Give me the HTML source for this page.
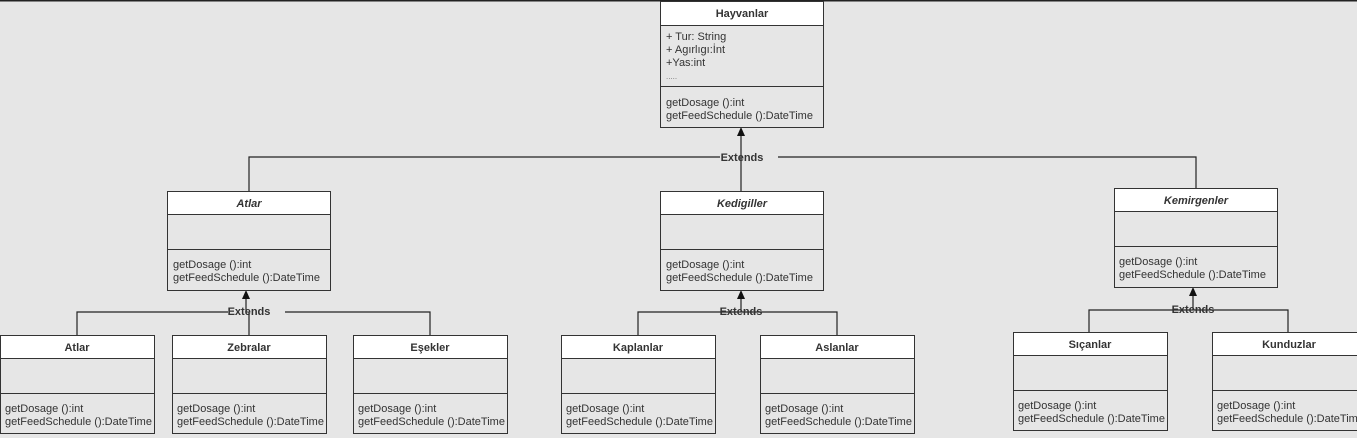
<!DOCTYPE html>
<html><head><meta charset="utf-8"><style>
html,body{margin:0;padding:0;background:#e6e6e6;width:1357px;height:438px;overflow:hidden}
svg{display:block}
text{font-family:"Liberation Sans",Arial,sans-serif;font-size:11px;fill:#333}
.t{font-weight:bold;text-anchor:middle;font-size:11px}
.i{font-style:italic;font-weight:bold;text-anchor:middle;font-size:11px}
.b{fill:#e6e6e6;stroke:#333;stroke-width:1}
.h{fill:#fff;stroke:#333;stroke-width:1}
.l{stroke:#222;stroke-width:1.2;fill:none}
</style></head><body>
<svg width="1357" height="438" viewBox="0 0 1357 438">
<line x1="0" y1="0.5" x2="1357" y2="0.5" stroke="#222" stroke-width="2"/>

<polyline class="l" points="249,191 249,157 720,157"/>
<polyline class="l" points="778,157 1196,157 1196,188"/>
<line class="l" x1="741" y1="191" x2="741" y2="133"/>
<polygon points="741,127 737,136 745,136" fill="#111"/>
<text x="742" y="161" class="t">Extends</text>

<polyline class="l" points="77,335 77,312 228,312"/>
<polyline class="l" points="285,312 430,312 430,335"/>
<line class="l" x1="249" y1="335" x2="249" y2="312"/>
<line class="l" x1="246" y1="312" x2="246" y2="296"/>
<polygon points="246,290 242,299 250,299" fill="#111"/>
<text x="249" y="315" class="t">Extends</text>

<polyline class="l" points="638,335 638,312 837,312 837,335"/>
<line class="l" x1="741" y1="312" x2="741" y2="296"/>
<polygon points="741,290 737,299 745,299" fill="#111"/>
<text x="741" y="315" class="t">Extends</text>

<polyline class="l" points="1089,332 1089,310 1288,310 1288,332"/>
<line class="l" x1="1193" y1="310" x2="1193" y2="293"/>
<polygon points="1193,287 1189,296 1197,296" fill="#111"/>
<text x="1193" y="313" class="t">Extends</text>

<rect class="b" x="660.5" y="1.5" width="163" height="126"/>
<rect class="h" x="660.5" y="1.5" width="163" height="24"/>
<line stroke="#333" x1="660" y1="86.5" x2="824" y2="86.5"/>
<text x="742" y="17" class="t">Hayvanlar</text>
<text x="666" y="40">+ Tur: String</text>
<text x="666" y="53">+ Agırlıgı:İnt</text>
<text x="666" y="66">+Yas:int</text>
<text x="666" y="79" style="font-size:8px;fill:#777">.....</text>
<text x="666" y="106">getDosage ():int</text>
<text x="666" y="119">getFeedSchedule ():DateTime</text>

<g>
<rect class="b" x="167.5" y="191.5" width="163" height="99"/>
<rect class="h" x="167.5" y="191.5" width="163" height="23"/>
<line stroke="#333" x1="167" y1="249.5" x2="331" y2="249.5"/>
<text x="249" y="207" class="i">Atlar</text>
<text x="173" y="268">getDosage ():int</text>
<text x="173" y="281">getFeedSchedule ():DateTime</text>
</g>
<g>
<rect class="b" x="660.5" y="191.5" width="163" height="99"/>
<rect class="h" x="660.5" y="191.5" width="163" height="23"/>
<line stroke="#333" x1="660" y1="249.5" x2="824" y2="249.5"/>
<text x="742" y="207" class="i">Kedigiller</text>
<text x="666" y="268">getDosage ():int</text>
<text x="666" y="281">getFeedSchedule ():DateTime</text>
</g>
<g>
<rect class="b" x="1114.5" y="188.5" width="163" height="99"/>
<rect class="h" x="1114.5" y="188.5" width="163" height="23"/>
<line stroke="#333" x1="1114" y1="246.5" x2="1278" y2="246.5"/>
<text x="1196" y="204" class="i">Kemirgenler</text>
<text x="1119" y="265">getDosage ():int</text>
<text x="1119" y="278">getFeedSchedule ():DateTime</text>
</g>

<g>
<rect class="b" x="0.5" y="335.5" width="154" height="98"/>
<rect class="h" x="0.5" y="335.5" width="154" height="23"/>
<line stroke="#333" x1="0" y1="393.5" x2="155" y2="393.5"/>
<text x="77" y="351" class="t">Atlar</text>
<text x="5" y="412">getDosage ():int</text>
<text x="5" y="425">getFeedSchedule ():DateTime</text>
</g>
<g>
<rect class="b" x="172.5" y="335.5" width="154" height="98"/>
<rect class="h" x="172.5" y="335.5" width="154" height="23"/>
<line stroke="#333" x1="172" y1="393.5" x2="327" y2="393.5"/>
<text x="249" y="351" class="t">Zebralar</text>
<text x="177" y="412">getDosage ():int</text>
<text x="177" y="425">getFeedSchedule ():DateTime</text>
</g>
<g>
<rect class="b" x="353.5" y="335.5" width="154" height="98"/>
<rect class="h" x="353.5" y="335.5" width="154" height="23"/>
<line stroke="#333" x1="353" y1="393.5" x2="508" y2="393.5"/>
<text x="430" y="351" class="t">Eşekler</text>
<text x="358" y="412">getDosage ():int</text>
<text x="358" y="425">getFeedSchedule ():DateTime</text>
</g>
<g>
<rect class="b" x="561.5" y="335.5" width="154" height="98"/>
<rect class="h" x="561.5" y="335.5" width="154" height="23"/>
<line stroke="#333" x1="561" y1="393.5" x2="716" y2="393.5"/>
<text x="638" y="351" class="t">Kaplanlar</text>
<text x="566" y="412">getDosage ():int</text>
<text x="566" y="425">getFeedSchedule ():DateTime</text>
</g>
<g>
<rect class="b" x="760.5" y="335.5" width="154" height="98"/>
<rect class="h" x="760.5" y="335.5" width="154" height="23"/>
<line stroke="#333" x1="760" y1="393.5" x2="915" y2="393.5"/>
<text x="837" y="351" class="t">Aslanlar</text>
<text x="765" y="412">getDosage ():int</text>
<text x="765" y="425">getFeedSchedule ():DateTime</text>
</g>
<g>
<rect class="b" x="1013.5" y="332.5" width="154" height="98"/>
<rect class="h" x="1013.5" y="332.5" width="154" height="23"/>
<line stroke="#333" x1="1013" y1="390.5" x2="1168" y2="390.5"/>
<text x="1090" y="348" class="t">Sıçanlar</text>
<text x="1018" y="409">getDosage ():int</text>
<text x="1018" y="422">getFeedSchedule ():DateTime</text>
</g>
<g>
<rect class="b" x="1212.5" y="332.5" width="154" height="98"/>
<rect class="h" x="1212.5" y="332.5" width="154" height="23"/>
<line stroke="#333" x1="1212" y1="390.5" x2="1367" y2="390.5"/>
<text x="1289" y="348" class="t">Kunduzlar</text>
<text x="1217" y="409">getDosage ():int</text>
<text x="1217" y="422">getFeedSchedule ():DateTime</text>
</g>
</svg>
</body></html>
